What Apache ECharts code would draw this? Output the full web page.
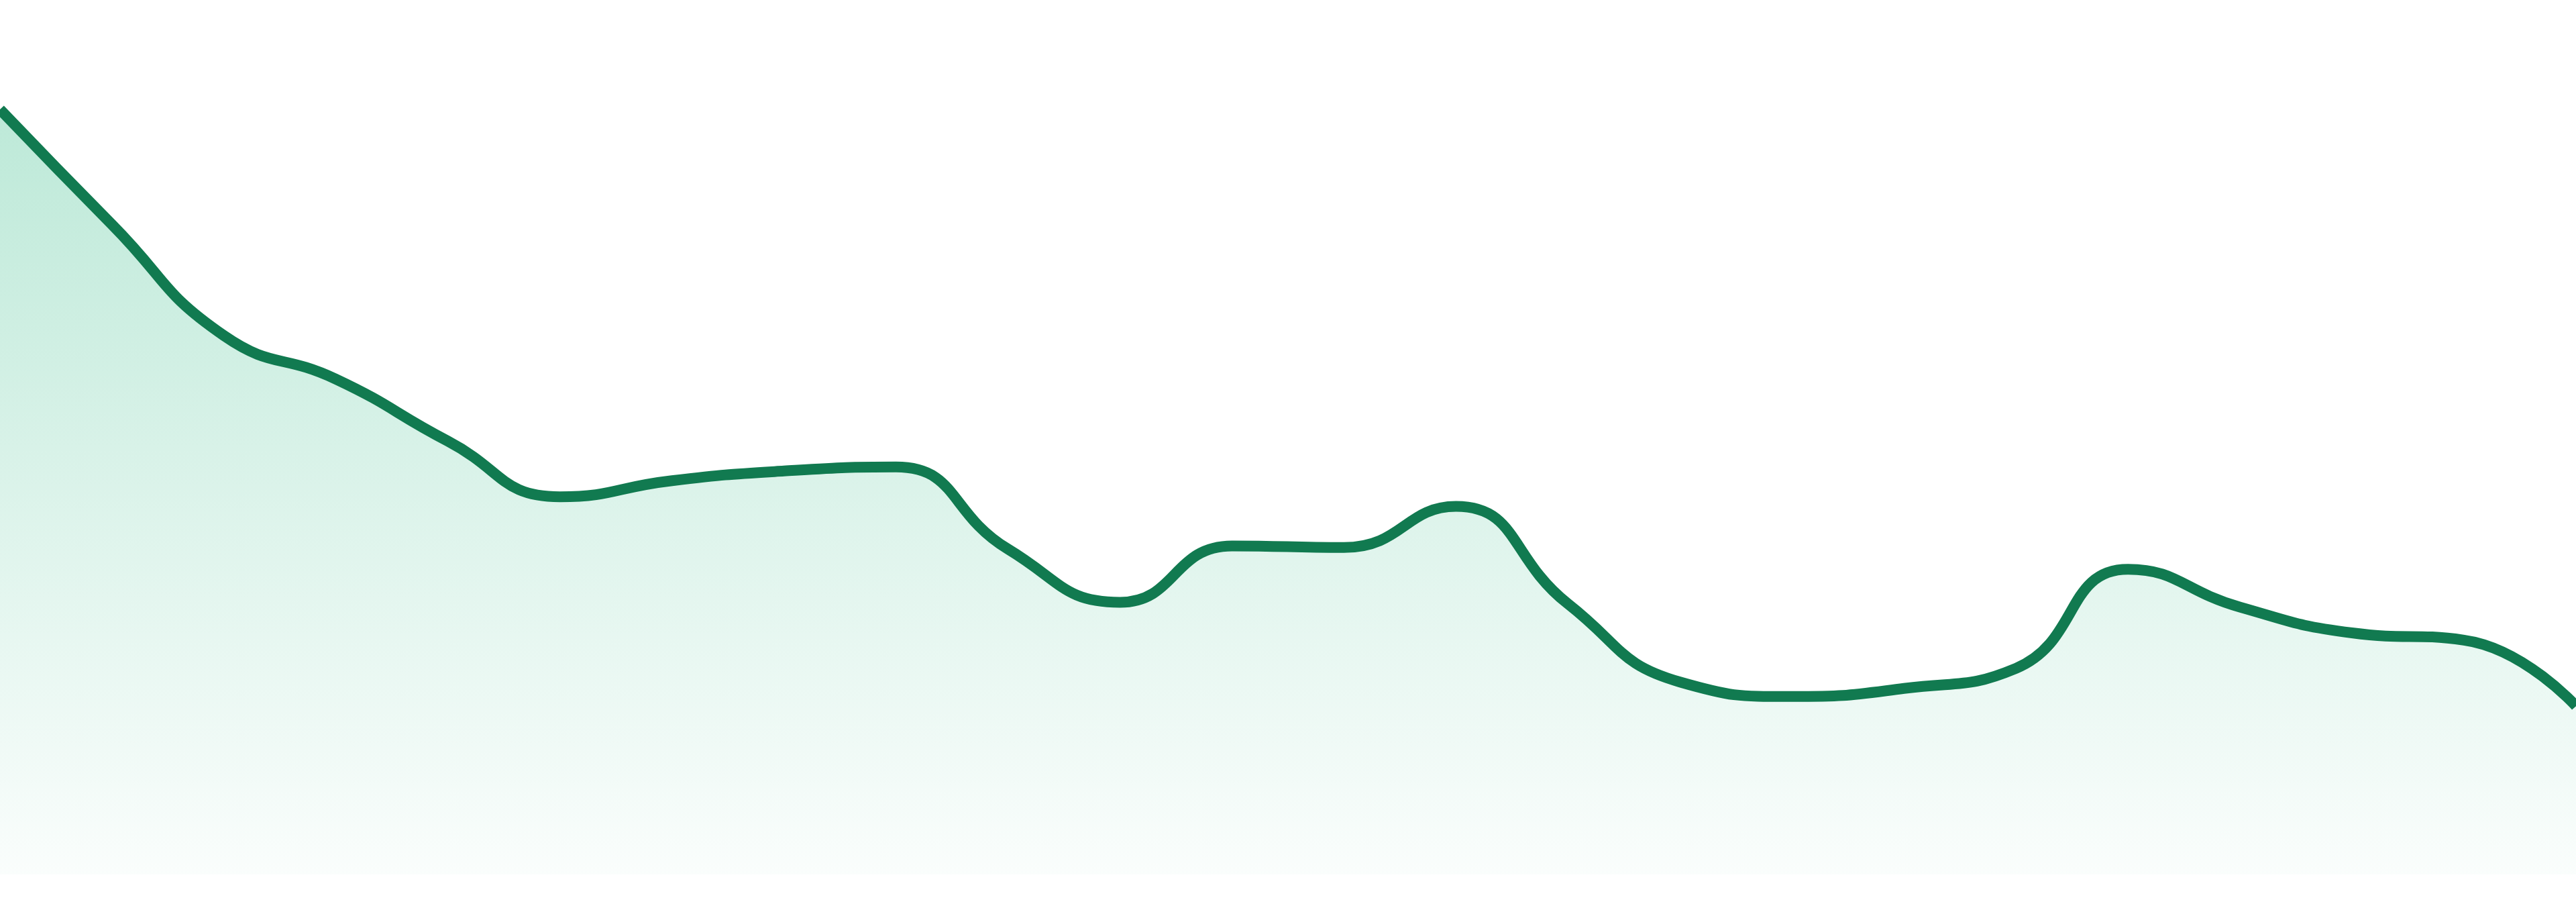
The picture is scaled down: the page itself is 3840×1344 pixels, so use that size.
<!DOCTYPE html>
<html>
<head>
<meta charset="utf-8">
<script src="https://cdn.jsdelivr.net/npm/echarts@6/dist/echarts.min.js"></script>
<style>
  html, body { margin: 0; padding: 0; background: #ffffff; }
  #chart { width: 3840px; height: 1344px; }
</style>
</head>
<body>
<div id="chart"></div>
<script>
const categories = ['P1','P2','P3','P4','P5','P6','P7','P8','P9','P10','P11','P12',
                    'P13','P14','P15','P16','P17','P18','P19','P20','P21','P22','P23','P24'];
const values = [95.0, 80.7, 66.9, 61.5, 53.8, 46.9, 48.9, 50.1, 50.6, 40.4, 33.8, 40.8,
                40.6, 45.7, 33.6, 23.9, 22.1, 23.1, 25.6, 37.9, 33.2, 30.0, 29.1, 20.9];
const yMin = 0;
const yMax = 100;

const chart = echarts.init(document.getElementById('chart'), null, { renderer: 'canvas' });
chart.setOption({
  animation: false,
  backgroundColor: '#ffffff',
  grid: { left: 0, right: 0, top: 103, bottom: 41, containLabel: false },
  xAxis: {
    type: 'category',
    data: categories,
    boundaryGap: false,
    show: false
  },
  yAxis: {
    type: 'value',
    min: yMin,
    max: yMax,
    show: false,
    splitLine: { show: false }
  },
  series: [{
    type: 'line',
    data: values,
    smooth: true,
    showSymbol: false,
    symbol: 'none',
    lineStyle: { color: '#117a50', width: 16 },
    itemStyle: { color: '#117a50' },
    areaStyle: {
      color: new echarts.graphic.LinearGradient(0, 0, 0, 1, [
        { offset: 0, color: 'rgba(30,180,122,0.42)' },
        { offset: 1, color: 'rgba(30,180,122,0.03)' }
      ])
    }
  }]
});
</script>
</body>
</html>
